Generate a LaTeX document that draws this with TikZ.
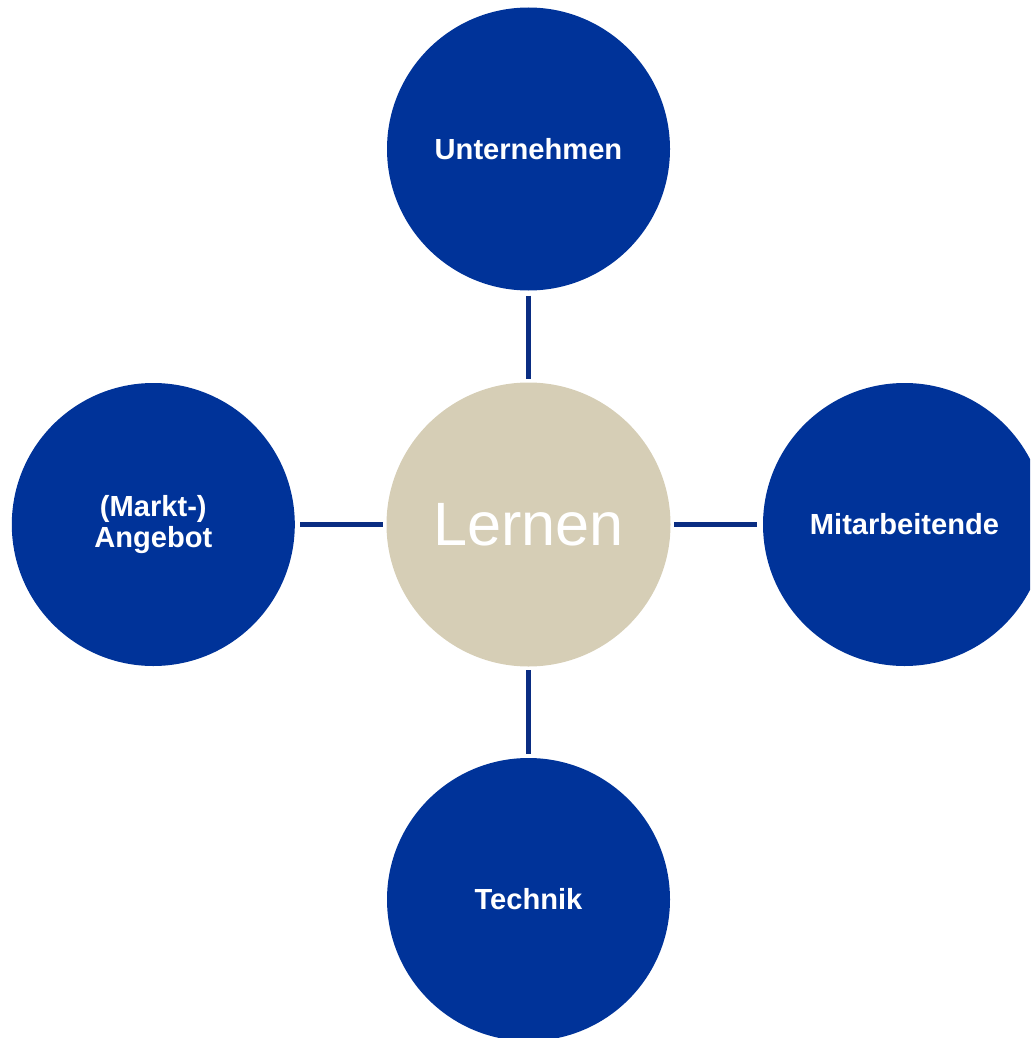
\documentclass[tikz,border=0pt]{standalone}
\usepackage{fontspec}
\setmainfont{Liberation Sans}
\definecolor{cblue}{HTML}{003399}
\definecolor{lblue}{HTML}{0A2D82}
\definecolor{beige}{HTML}{D6CEB6}
\begin{document}
\begin{tikzpicture}[x=1pt,y=-1pt,
  outer/.style={circle, fill=cblue, minimum size=283pt, inner sep=0pt, text=white,
    font=\fontsize{29.1}{31}\selectfont\bfseries, align=center},
  link/.style={draw=lblue, line width=5pt}]
\useasboundingbox (0,0) rectangle (1030,1038);
\clip (0,0) rectangle (1030,1038);
\node[circle, fill=beige, minimum size=284pt, inner sep=0pt, text=white,
  font=\fontsize{61.2}{66}\selectfont] (c) at (528.5,524.5) {Lernen};
\node[outer] (t) at (528.5,149) {Unternehmen};
\node[outer] (b) at (528.5,899.5) {Technik};
\node[outer] (l) at (153.3,524.5) {(Markt-)\\Angebot};
\node[outer] (r) at (904.5,524.5) {Mitarbeitende};
\draw[link, shorten <=5pt, shorten >=3pt] (t) -- (c);
\draw[link, shorten <=4pt, shorten >=3pt] (b) -- (c);
\draw[link, shorten <=5pt, shorten >=3pt] (l) -- (c);
\draw[link, shorten <=6pt, shorten >=3pt] (r) -- (c);
\end{tikzpicture}
\end{document}
